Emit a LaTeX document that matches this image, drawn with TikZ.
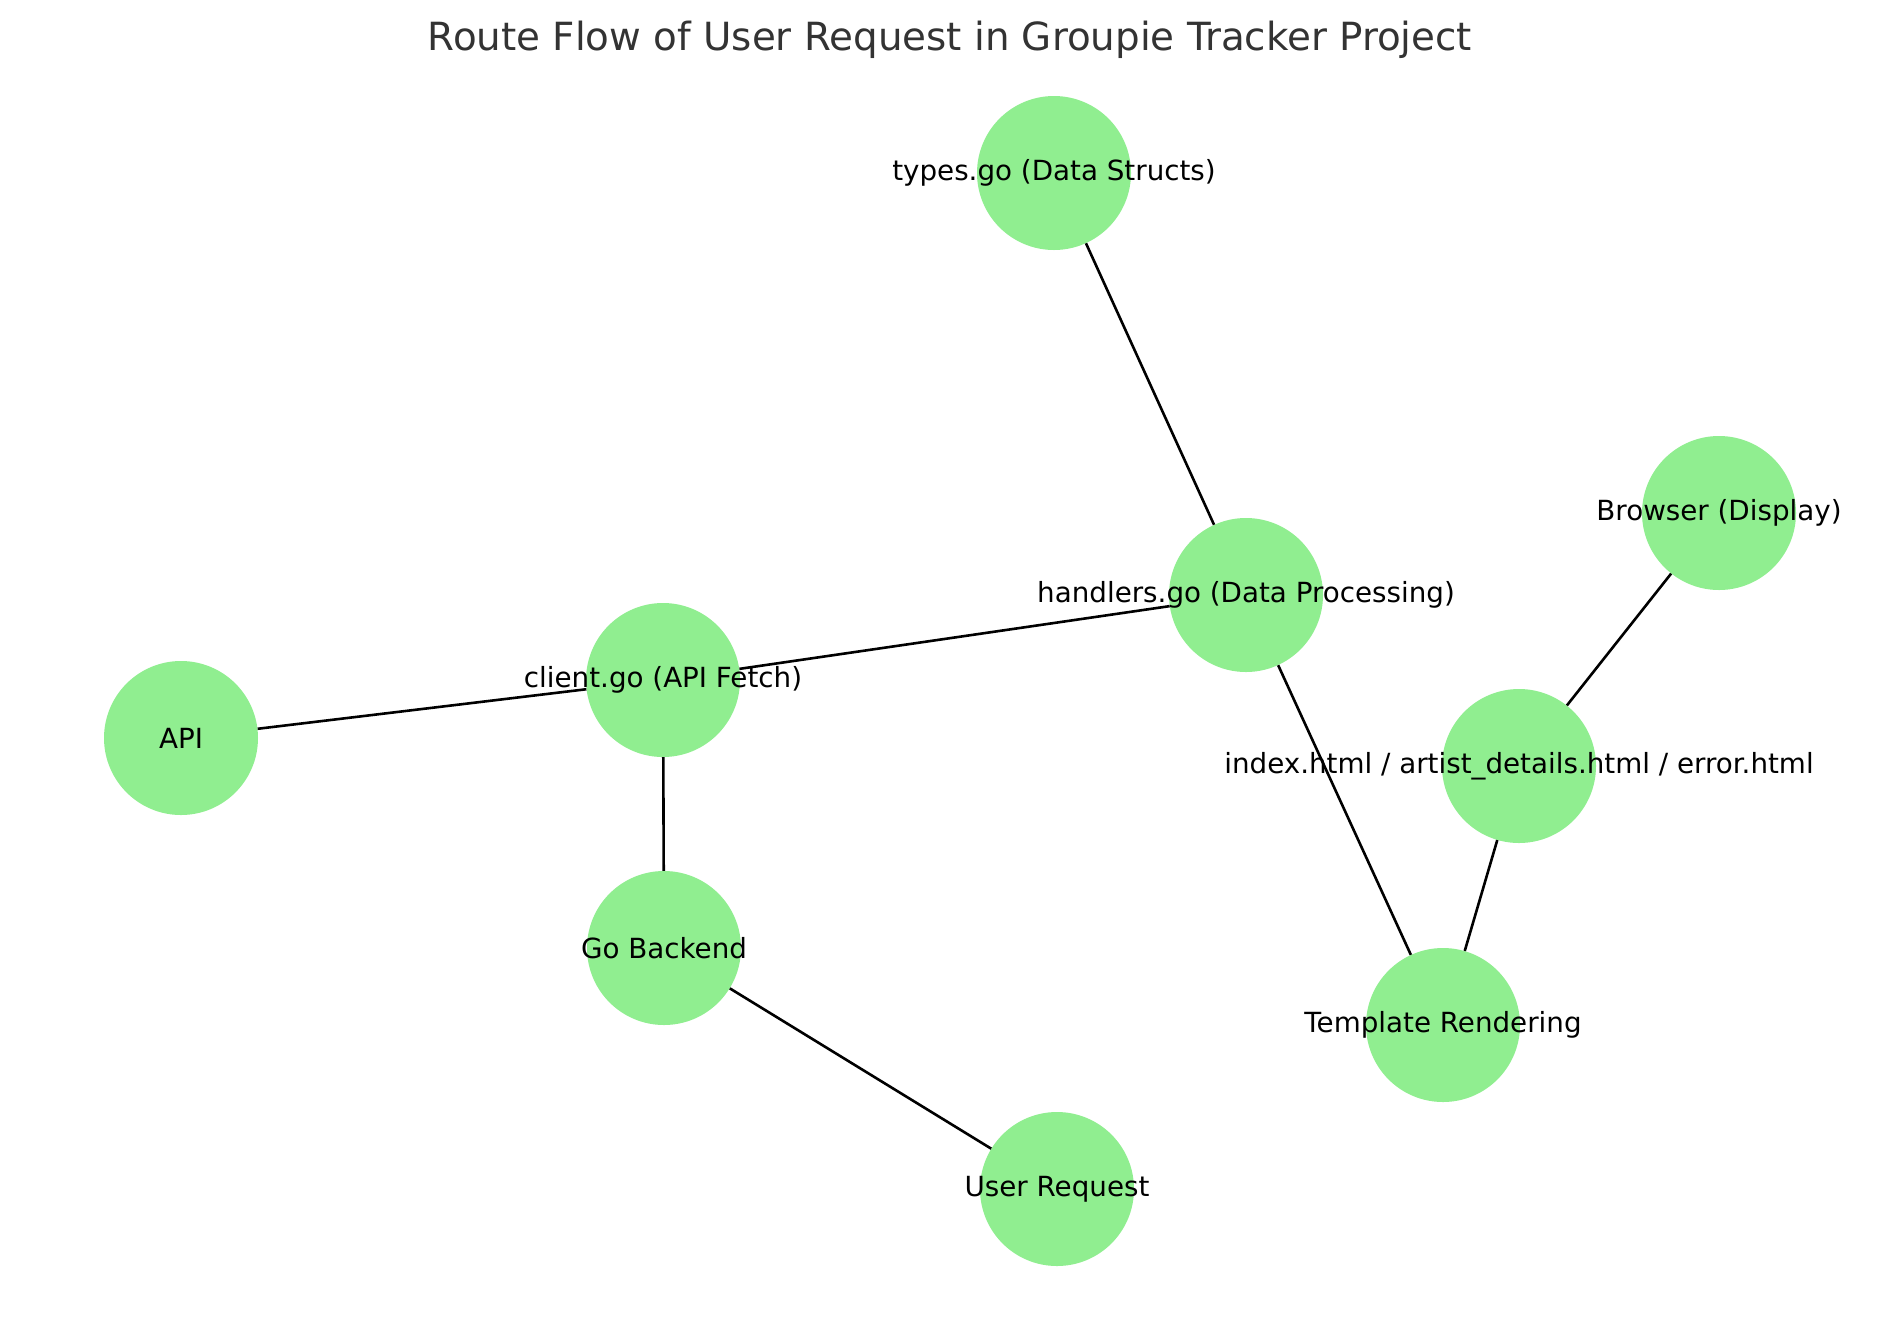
\documentclass[tikz,border=0pt]{standalone}
\usepackage{fontspec}
\setmainfont{DejaVu Sans}
\definecolor{lgreen}{HTML}{90EE90}
\definecolor{titlegray}{HTML}{333333}
\begin{document}
\begin{tikzpicture}[x=1pt,y=-1pt,
  gnode/.style={circle,fill=lgreen,draw=none,minimum size=154pt,inner sep=0pt},
  glabel/.style={inner sep=0pt,font=\fontsize{27.75}{30}\selectfont,text=black},
  gedge/.style={draw=black,line width=2.6pt}]
\useasboundingbox (0,0) rectangle (1900,1318);
\fill[white] (0,0) rectangle (1900,1318);
\node[anchor=base,inner sep=0pt,text=titlegray,font=\fontsize{38.8}{42}\selectfont] (title) at (950,50) {Route Flow of User Request in Groupie Tracker Project};
% nodes
\node[gnode] (types) at (1054,173) {};
\node[gnode] (browser) at (1719,513) {};
\node[gnode] (handlers) at (1246,595) {};
\node[gnode] (client) at (663,680) {};
\node[gnode] (api) at (181,738) {};
\node[gnode] (index) at (1519,766) {};
\node[gnode] (backend) at (664,948) {};
\node[gnode] (template) at (1443,1025) {};
\node[gnode] (user) at (1057,1189) {};
% edges
\draw[gedge] (types) -- (handlers);
\draw[gedge] (client) -- (handlers);
\draw[gedge] (api) -- (client);
\draw[gedge] (client) -- (backend);
\draw[gedge] (backend) -- (user);
\draw[gedge] (handlers) -- (template);
\draw[gedge] (index) -- (template);
\draw[gedge] (index) -- (browser);
% labels
\node[glabel] (ltypes) at (types.center) {types.go (Data Structs)};
\node[glabel] (lbrowser) at (browser.center) {Browser (Display)};
\node[glabel] (lhandlers) at (handlers.center) {handlers.go (Data Processing)};
\node[glabel] (lclient) at (client.center) {client.go (API Fetch)};
\node[glabel] (lapi) at (api.center) {API};
\node[glabel] (lindex) at (index.center) {index.html / artist\_details.html / error.html};
\node[glabel] (lbackend) at (backend.center) {Go Backend};
\node[glabel] (ltemplate) at (template.center) {Template Rendering};
\node[glabel] (luser) at (user.center) {User Request};
\end{tikzpicture}
\end{document}
